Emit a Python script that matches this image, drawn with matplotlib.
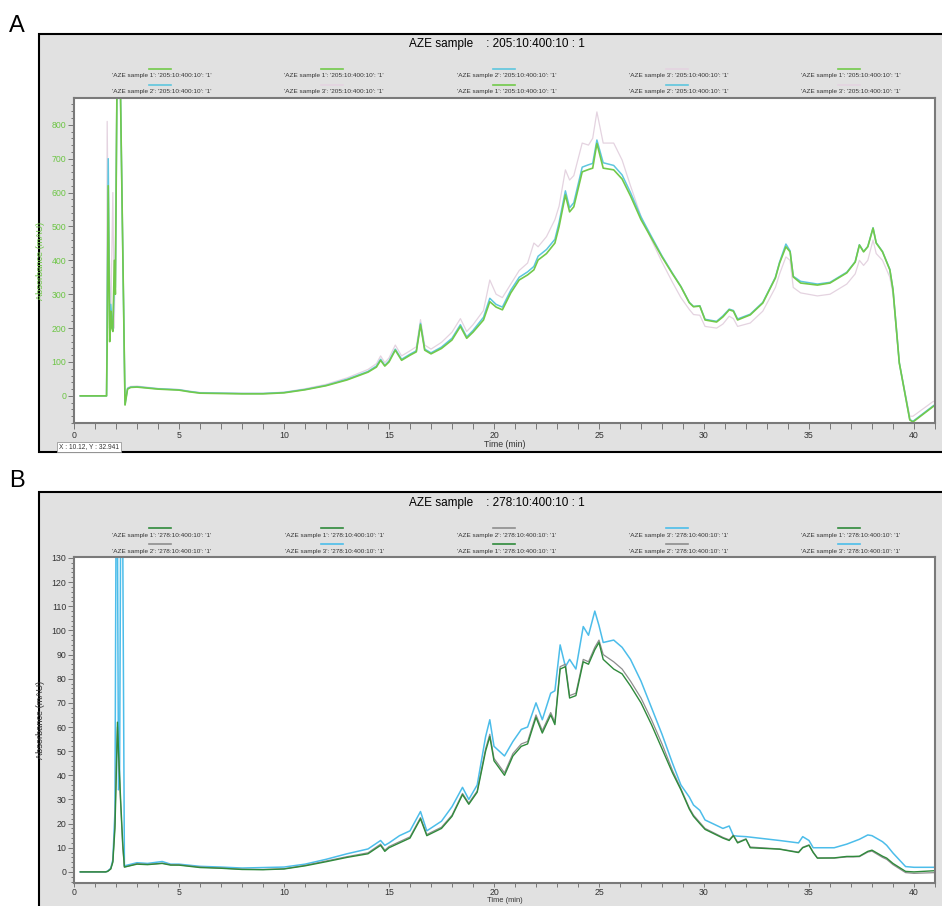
import matplotlib
matplotlib.use('Agg')
import matplotlib.pyplot as plt
from matplotlib.patches import Rectangle
from matplotlib.lines import Line2D
from matplotlib.ticker import MultipleLocator

plt.rcParams['font.family'] = ['Liberation Sans', 'DejaVu Sans']

# ---- panel A data ----
a_time = [0.3, 1.5, 1.55, 1.58, 1.63, 1.7, 1.75, 1.8, 1.85, 1.92, 1.97, 2.05, 2.2, 2.43, 2.55, 2.7,
          3.0, 4.0, 5.0, 5.5, 6.0, 7.0, 8.0, 9.0, 10.0, 11.0, 12.0, 13.0, 14.0, 14.4, 14.6, 14.8,
          15.0, 15.3, 15.6, 16.0, 16.3, 16.5, 16.7, 17.0, 17.5, 18.0, 18.4, 18.7, 19.0, 19.5, 19.8,
          20.1, 20.4, 20.8, 21.2, 21.6, 21.9, 22.1, 22.5, 22.9, 23.1, 23.4, 23.6, 23.8, 24.2, 24.5,
          24.7, 24.9, 25.2, 25.7, 26.1, 26.5, 27.0, 27.5, 28.0, 28.5, 28.9, 29.3, 29.5, 29.8, 30.05,
          30.6, 30.9, 31.2, 31.4, 31.6, 32.2, 32.8, 33.4, 33.6, 33.9, 34.1, 34.25, 34.6, 35.4, 36.0,
          36.8, 37.2, 37.4, 37.6, 37.8, 38.05, 38.2, 38.5, 38.85, 39.0, 39.3, 39.8, 39.95, 40.9, 41.0]
a_green = [0, 0, 0, 150, 620, 160, 250, 200, 190, 400, 300, 950, 950, -27, 20, 25,
           26, 20, 17, 12, 8, 7, 6, 6, 9, 18, 30, 47, 70, 85, 105, 88,
           100, 135, 105, 120, 130, 210, 135, 124, 140, 165, 205, 170, 188, 224, 278,
           262, 254, 304, 342, 357, 372, 401, 420, 451, 500, 593, 543, 558, 661, 668,
           672, 745, 672, 667, 640, 590, 520, 465, 410, 360, 322, 275, 263, 265, 224,
           218, 233, 254, 250, 224, 239, 274, 348, 392, 440, 425, 351, 333, 327, 333,
           363, 395, 445, 425, 440, 495, 451, 425, 372, 313, 97, -71, -77, -32, -28]
a_cyan = [0, 0, 0, 250, 700, 200, 270, 230, 195, 330, 320, 950, 950, -25, 22, 26,
          27, 21, 18, 13, 9, 8, 7, 7, 10, 19, 31, 49, 72, 88, 108, 90,
          103, 138, 108, 123, 133, 214, 138, 127, 144, 170, 210, 174, 193, 232, 288,
          270, 262, 312, 350, 366, 382, 412, 432, 462, 512, 605, 555, 570, 675, 682,
          686, 755, 688, 680, 652, 600, 528, 470, 413, 362, 323, 276, 264, 266, 226,
          220, 236, 256, 252, 227, 241, 276, 350, 395, 448, 428, 353, 338, 330, 335,
          365, 396, 446, 426, 441, 496, 452, 426, 373, 314, 98, -70, -75, -30, -26]
a_pink = [0, 0, 0, 810, 500, 380, 200, 420, 600, 200, 500, 950, 950, -20, 24, 28,
          29, 22, 19, 14, 10, 9, 8, 8, 11, 21, 34, 53, 78, 95, 118, 98,
          112, 150, 118, 133, 145, 225, 150, 138, 158, 188, 228, 190, 210, 252, 342,
          300, 290, 330, 370, 392, 451, 440, 470, 520, 560, 667, 637, 650, 746, 740,
          760, 838, 746, 746, 696, 620, 530, 460, 395, 335, 290, 255, 240, 238, 205,
          200, 212, 235, 228, 205, 215, 250, 320, 360, 410, 400, 320, 304, 295, 300,
          330, 360, 400, 385, 400, 460, 420, 400, 350, 300, 97, -60, -60, -17, -15]

# ---- panel B data ----
b_time = [0.3, 1.5, 1.6, 1.75, 1.85, 1.95, 2.0, 2.07, 2.12, 2.17, 2.22, 2.32, 2.4, 3.0, 3.5,
          4.2, 4.6, 5.0, 6.0, 7.0, 8.0, 9.0, 10.0, 11.0, 12.0, 13.0, 14.0, 14.6, 14.8, 15.0,
          15.5, 16.0, 16.5, 16.8, 17.5, 18.0, 18.5, 18.8, 19.2, 19.6, 19.8, 20.0, 20.5, 20.9,
          21.3, 21.6, 22.0, 22.3, 22.7, 22.9, 23.15, 23.4, 23.6, 23.9, 24.25, 24.5, 24.8, 25.0,
          25.2, 25.7, 26.1, 26.5, 27.0, 27.5, 28.0, 28.5, 28.9, 29.3, 29.5, 29.8, 30.05, 30.9,
          31.2, 31.4, 31.6, 32.0, 32.2, 33.6, 34.5, 34.7, 35.0, 35.2, 35.4, 36.2, 36.8, 37.1,
          37.4, 37.8, 38.0, 38.5, 38.7, 39.0, 39.6, 40.0, 41.0]
b_blue = [0, 0, 0.3, 1.5, 5, 25, 140, 140, 34, 36, 140, 140, 2.5, 3.8, 3.5,
          4.3, 3.2, 3.2, 2.3, 2.0, 1.6, 1.8, 2.0, 3.2, 5.2, 7.5, 9.5, 13, 11, 12,
          15, 17, 25, 17, 21, 27, 35, 30, 36, 56, 63, 52, 48, 54,
          59, 60, 70, 63, 74, 75, 94, 85, 88, 84, 101.6, 98, 108, 102,
          95, 96, 93, 88, 79, 68, 57, 45, 36, 31, 27.7, 25.5, 21.5, 18,
          19, 15, 14.8, 14.6, 14.4, 13, 12, 14.6, 13, 10, 10, 10, 11.5, 12.5,
          13.5, 15.3, 15, 12.5, 11, 7.8, 2.2, 1.9, 1.9]
b_green = [0, 0, 0.2, 1.2, 4, 18, 35, 62, 50, 40, 30, 12, 2, 3.2, 3.0,
           3.5, 2.8, 2.8, 1.8, 1.5, 1.0, 0.9, 1.2, 2.5, 4.2, 6.0, 7.5, 11, 8.5, 10,
           12, 14, 22, 15, 18, 23, 32, 28, 33, 50, 56, 46, 40, 48,
           52, 53, 64, 57.5, 65, 61, 84, 85, 72, 73, 87, 86, 92, 95,
           88, 84, 82, 77, 70, 61, 51, 41, 34, 26, 23, 20, 17.6, 14,
           13, 15, 12, 13.5, 10, 9.4, 8, 10, 11, 8, 5.7, 5.8, 6.4, 6.4,
           6.5, 8.5, 9, 6.5, 5.7, 3.5, 0.2, 0, 0.5]
b_gray = [0, 0, 0.2, 1.3, 4.5, 20, 40, 60, 48, 38, 28, 10, 2, 3.4, 3.1,
          3.6, 3.0, 2.9, 2.0, 1.6, 1.1, 1.0, 1.3, 2.7, 4.5, 6.3, 7.9, 11.5, 9, 10.5,
          12.5, 14.5, 22.5, 15.5, 18.5, 23.5, 32.5, 28.5, 33.5, 51, 57, 47, 41, 49,
          53, 54, 65, 58.5, 66, 62, 85, 86, 73, 74, 88, 87, 93, 96,
          90, 87, 84, 79, 72, 63, 53, 42, 34.5, 26.5, 23.5, 20.5, 18, 14.3,
          13.3, 15.2, 12.3, 13.7, 10.3, 9.5, 8.2, 10.2, 11.2, 8.2, 5.8, 5.7, 6.2, 6.2,
          6.3, 8.2, 8.6, 6.0, 5.2, 3.0, -0.3, -0.6, -0.3]

# legend entries (row-major, 5 per row)
sample_ids = [1, 1, 2, 3, 1, 2, 3, 1, 2, 3]
a_cols = {1: '#72c94a', 2: '#5ec6de', 3: '#e4d3e0'}
b_cols = {1: '#2f8a3b', 2: '#8e8e8e', 3: '#4cbdea'}

W, H = 942, 906


def fx(px):
    return px / W


def fy(py):
    return 1 - py / H


fig = plt.figure(figsize=(9.42, 9.06), dpi=100)

# panel letters
fig.text(fx(9), fy(26), 'A', fontsize=17, va='center')
fig.text(fx(9), fy(481), 'B', fontsize=17, va='center')

# gray software frames
for top, bottom in [(34, 452), (492, 930)]:
    fig.add_artist(Rectangle((fx(39), fy(bottom)), (960 - 39) / W, (bottom - top) / H,
                             transform=fig.transFigure, facecolor='#e1e1e1',
                             edgecolor='black', lw=1.5, zorder=-5))


def header(title, cols, y_title, y_row1, code):
    fig.text(fx(497), fy(y_title), title, ha='center', va='center', fontsize=8.5)
    for i, s in enumerate(sample_ids):
        r, c = divmod(i, 5)
        cx = 160 + 172.2 * c
        ly = y_row1 + 16 * r
        fig.add_artist(Line2D([fx(cx - 11), fx(cx + 11)], [fy(ly), fy(ly)],
                              transform=fig.transFigure, color=cols[s], lw=1.2))
        lab = "'AZE sample %d': '%s': '1'" % (s, code)
        fig.text(fx(cx + 2), fy(ly + 7), lab, ha='center', va='center', fontsize=4.6,
                 color='#333333')


header('AZE sample    : 205:10:400:10 : 1', a_cols, 44, 69, '205:10:400:10')
header('AZE sample    : 278:10:400:10 : 1', b_cols, 503, 528, '278:10:400:10')

axA = fig.add_axes([fx(74), fy(423), (935 - 74) / W, (423 - 98) / H])
axB = fig.add_axes([fx(74), fy(883), (935 - 74) / W, (883 - 557) / H])

axA.plot(a_time, a_pink, color=a_cols[3], lw=0.9)
axA.plot(a_time, a_cyan, color=a_cols[2], lw=1.1)
axA.plot(a_time, a_green, color=a_cols[1], lw=1.2)
axA.set_ylim(-80, 879)
axA.yaxis.set_major_locator(MultipleLocator(100))
axA.yaxis.set_minor_locator(MultipleLocator(20))

axB.plot(b_time, b_blue, color=b_cols[3], lw=1.1)
axB.plot(b_time, b_gray, color=b_cols[2], lw=0.9)
axB.plot(b_time, b_green, color=b_cols[1], lw=1.0)
axB.set_ylim(-4.6, 130.4)
axB.yaxis.set_major_locator(MultipleLocator(10))
axB.yaxis.set_minor_locator(MultipleLocator(2))

for ax, lc in [(axA, '#6cc544'), (axB, '#333333')]:
    ax.set_xlim(0, 41)
    ax.xaxis.set_major_locator(MultipleLocator(5))
    ax.xaxis.set_minor_locator(MultipleLocator(1))
    for sp in ax.spines.values():
        sp.set_color('#7a7a7a')
        sp.set_linewidth(1.5)
    ax.tick_params(which='both', direction='out', color='#666666', width=0.6,
                   labelsize=6.3, pad=1.5)
    ax.tick_params(which='major', length=4)
    ax.tick_params(which='minor', length=2.5)
    ax.tick_params(axis='x', which='minor', length=4)
    ax.tick_params(axis='y', labelcolor=lc)
    ax.tick_params(axis='x', labelcolor='#333333')
    ax.set_ylabel('Absorbance (mAU)', fontsize=6.6, color=lc)
    ax.yaxis.set_label_coords(-0.034, 0.5)

axA.set_xlabel('Time (min)', fontsize=6.3, color='#333333', labelpad=0.5)
# bottom panel runs to the edge of the image: tighter ticks so its label fits
axB.tick_params(axis='x', which='both', length=3, pad=0.5)
axB.set_xlabel('Time (min)', fontsize=5.4, color='#333333', labelpad=0.3)

# cursor readout box
fig.text(fx(59), fy(447), 'X : 10.12, Y : 32.941', fontsize=4.8, va='center', color='#333333',
         bbox=dict(boxstyle='square,pad=0.25', fc='white', ec='#999999', lw=0.6))

fig.savefig('out.png', dpi=100)
